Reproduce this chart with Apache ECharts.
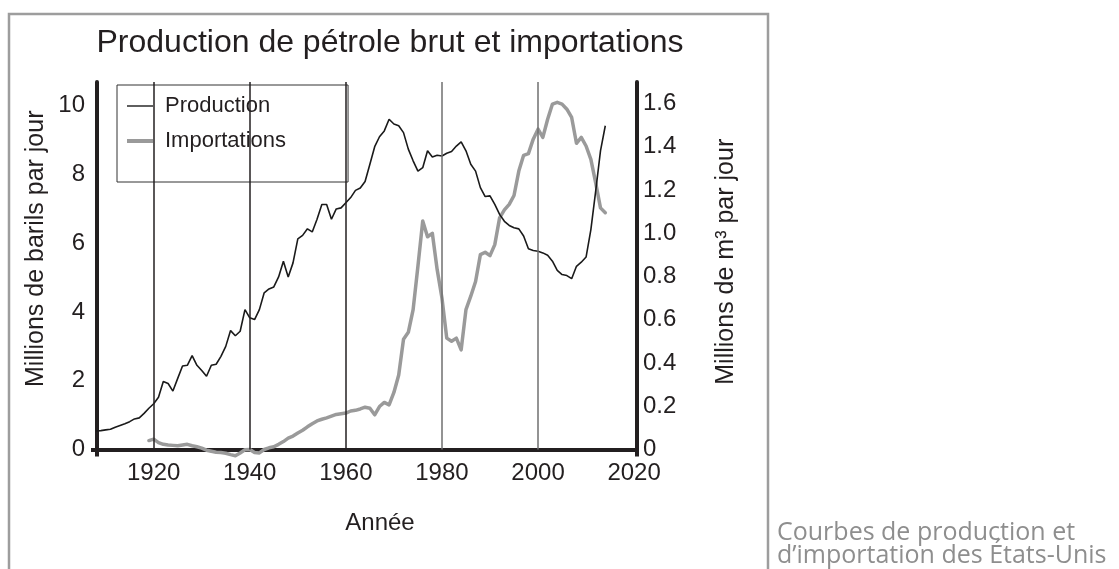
<!DOCTYPE html>
<html>
<head>
<meta charset="utf-8">
<script src="https://cdn.jsdelivr.net/npm/echarts@6/dist/echarts.min.js"></script>
<style>
html,body{margin:0;padding:0;background:#fff;}
#chart{width:1119px;height:569px;}
</style>
</head>
<body>
<div id="chart"></div>
<script>
// ---- data (million barrels per day) ----
const prodYears = [1908,1909,1910,1911,1912,1913,1914,1915,1916,1917,1918,1919,1920,1921,1922,1923,1924,1925,1926,1927,1928,1929,1930,1931,1932,1933,1934,1935,1936,1937,1938,1939,1940,1941,1942,1943,1944,1945,1946,1947,1948,1949,1950,1951,1952,1953,1954,1955,1956,1957,1958,1959,1960,1961,1962,1963,1964,1965,1966,1967,1968,1969,1970,1971,1972,1973,1974,1975,1976,1977,1978,1979,1980,1981,1982,1983,1984,1985,1986,1987,1988,1989,1990,1991,1992,1993,1994,1995,1996,1997,1998,1999,2000,2001,2002,2003,2004,2005,2006,2007,2008,2009,2010,2011,2012,2013,2014];
const prodValues = [0.54,0.55,0.57,0.59,0.65,0.70,0.75,0.81,0.89,0.92,1.05,1.20,1.33,1.52,1.98,1.92,1.70,2.07,2.43,2.45,2.73,2.45,2.30,2.13,2.45,2.48,2.71,3.00,3.46,3.31,3.44,4.07,3.83,3.78,4.07,4.56,4.67,4.73,5.02,5.48,5.02,5.43,6.13,6.23,6.42,6.33,6.70,7.13,7.13,6.70,7.00,7.03,7.18,7.33,7.54,7.61,7.80,8.30,8.81,9.10,9.27,9.61,9.47,9.42,9.22,8.74,8.40,8.10,8.20,8.69,8.51,8.56,8.54,8.62,8.67,8.83,8.95,8.69,8.30,8.10,7.62,7.36,7.38,7.13,6.84,6.64,6.52,6.45,6.42,6.21,5.84,5.79,5.77,5.72,5.65,5.48,5.21,5.09,5.06,4.97,5.33,5.45,5.60,6.40,7.52,8.69,9.42];
const impYears = [1919,1920,1921,1922,1923,1924,1925,1926,1927,1928,1929,1930,1931,1932,1933,1934,1935,1936,1937,1938,1939,1940,1941,1942,1943,1944,1945,1946,1947,1948,1949,1950,1951,1952,1953,1954,1955,1956,1957,1958,1959,1960,1961,1962,1963,1964,1965,1966,1967,1968,1969,1970,1971,1972,1973,1974,1975,1976,1977,1978,1979,1980,1981,1982,1983,1984,1985,1986,1987,1988,1989,1990,1991,1992,1993,1994,1995,1996,1997,1998,1999,2000,2001,2002,2003,2004,2005,2006,2007,2008,2009,2010,2011,2012,2013,2014];
const impValues = [0.26,0.30,0.20,0.15,0.13,0.12,0.11,0.13,0.15,0.11,0.08,0.04,-0.02,-0.05,-0.08,-0.09,-0.11,-0.15,-0.18,-0.10,-0.01,0.00,-0.09,-0.10,0.00,0.05,0.08,0.15,0.23,0.33,0.39,0.48,0.56,0.66,0.75,0.83,0.88,0.92,0.97,1.02,1.04,1.06,1.12,1.14,1.18,1.23,1.20,1.01,1.25,1.37,1.30,1.66,2.17,3.21,3.41,4.07,5.33,6.65,6.19,6.29,5.24,4.41,3.24,3.15,3.24,2.90,4.07,4.46,4.89,5.67,5.74,5.64,5.96,6.74,6.97,7.13,7.39,8.10,8.56,8.61,9.03,9.32,9.08,9.61,10.05,10.10,10.05,9.90,9.66,8.91,9.08,8.83,8.44,7.76,7.03,6.89];
const xTickLabels = [1920,1940,1960,1980,2000,2020];
const gridYears = [1920,1940,1960,1980,2000];
const leftTicks = [0,2,4,6,8,10];
const rightTicks = [0,0.2,0.4,0.6,0.8,1.0,1.2,1.4,1.6];
const seriesNames = ['Production','Importations'];
const BBL_PER_M3 = 6.2898;

const xMin = 1908.2, xMax = 2020.6;
const rightMax = 1.7;
const leftMax = rightMax * BBL_PER_M3;

const ink = '#231f20';
const prodColor = '#1a1a1a';
const impColor = '#9a9a9a';
const chart = echarts.init(document.getElementById('chart'), null, {renderer:'canvas'});
const FONT = '"Liberation Sans", Arial, Helvetica, sans-serif';

const option = {
  animation:false,
  backgroundColor:'#fff',
  textStyle:{fontFamily:FONT},
  title:{
    text:'Production de pétrole brut et importations',
    left:390, top:27, textAlign:'center', padding:0,
    textStyle:{fontFamily:FONT, fontSize:32, fontWeight:'normal', color:ink}
  },
  legend:{
    data:[
      {name:seriesNames[0], icon:'path://M0,0H26V1.4H0Z', itemStyle:{color:prodColor, borderWidth:0}},
      {name:seriesNames[1], icon:'path://M0,0H26V4H0Z', itemStyle:{color:impColor, borderWidth:0}}
    ],
    orient:'vertical',
    left:117, top:85,
    padding:[10,62,30,10],
    itemGap:13,
    itemWidth:26, itemHeight:22,
    borderColor:'#333', borderWidth:1,
    textStyle:{fontFamily:FONT, fontSize:22, color:ink, padding:[0,0,0,7]}
  },
  grid:{left:97, right:482, top:82, bottom:119.5, containLabel:false},
  xAxis:{
    type:'value', min:xMin, max:xMax,
    name:'Année', nameLocation:'middle', nameGap:62,
    nameTextStyle:{fontFamily:FONT, fontSize:24, color:ink, padding:[0,0,0,26]},
    axisLine:{lineStyle:{color:ink, width:4}},
    axisTick:{show:true, customValues:[xMin, xMax], length:7, lineStyle:{color:ink, width:4}},
    axisLabel:{customValues:xTickLabels, fontSize:24, color:ink, margin:12, fontFamily:FONT,
      formatter:v => String(Math.round(v))},
    splitLine:{show:false}
  },
  yAxis:[{
    type:'value', min:0, max:leftMax, position:'left',
    name:'Millions de barils par jour', nameLocation:'middle', nameRotate:90, nameGap:48,
    nameTextStyle:{fontFamily:FONT, fontSize:25, color:ink, padding:[0,0,0,34]},
    axisLine:{show:true, lineStyle:{color:ink, width:4}},
    axisTick:{show:true, customValues:[0], length:6, lineStyle:{color:ink, width:4}},
    axisLabel:{customValues:leftTicks, fontSize:24, color:ink, margin:12, fontFamily:FONT,
      formatter:v => String(v)},
    splitLine:{show:false}
  },{
    type:'value', min:0, max:rightMax, position:'right',
    name:'Millions de m³ par jour', nameLocation:'middle', nameRotate:90, nameGap:77,
    nameTextStyle:{fontFamily:FONT, fontSize:25, color:ink, padding:[0,0,0,8]},
    axisLine:{show:true, lineStyle:{color:ink, width:4}},
    axisTick:{show:false},
    axisLabel:{customValues:rightTicks, fontSize:24, color:ink, margin:6, fontFamily:FONT,
      formatter:v => v === 0 ? '0' : v.toFixed(1)},
    splitLine:{show:false}
  }],
  series:[{
    name:seriesNames[0], type:'line', yAxisIndex:0,
    data:prodYears.map((y,i)=>[y, prodValues[i]]),
    symbol:'none', smooth:false, z:4,
    lineStyle:{color:prodColor, width:1.6},
    itemStyle:{color:prodColor},
    markLine:{
      silent:true, symbol:['none','none'], label:{show:false},
      data:gridYears.map((y,i)=>({xAxis:y, lineStyle:{color: i<3 ? '#231f20' : '#6f6f6f', width:1.5, type:'solid'}}))
    }
  },{
    name:seriesNames[1], type:'line', yAxisIndex:0, clip:false,
    data:impYears.map((y,i)=>[y, impValues[i]]),
    symbol:'none', smooth:false, z:3,
    lineStyle:{color:impColor, width:3.5, cap:'round', join:'round'},
    itemStyle:{color:impColor}
  }],
  graphic:[{
    type:'rect', silent:true, z:-1,
    shape:{x:9, y:14, width:759, height:620},
    style:{stroke:'#9d9d9d', lineWidth:2.5, fill:null}
  },{
    type:'text', left:777, top:520, silent:true,
    style:{text:'Courbes de production et\nd’importation des États-Unis', font:'25px "Open Sans", "Noto Sans", sans-serif', fill:'#8e8e8e', lineHeight:23}
  }]
};
chart.setOption(option);
</script>
</body>
</html>
